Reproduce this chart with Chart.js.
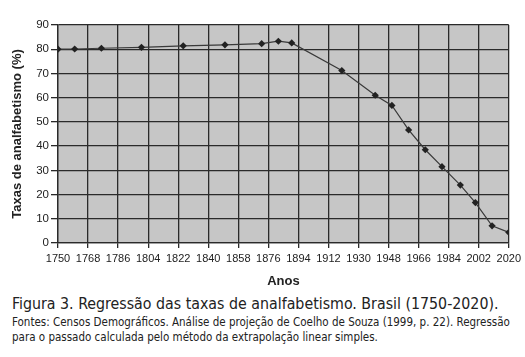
<!DOCTYPE html>
<html><head><meta charset="utf-8">
<script src="https://cdn.jsdelivr.net/npm/chart.js@4"></script>
<style>
html,body{margin:0;padding:0;background:#fff;width:525px;height:357px;overflow:hidden;}
#wrap{position:absolute;left:0;top:0;width:525px;height:292px;}
.cap{position:absolute;white-space:nowrap;color:#222;font-family:"DejaVu Sans Condensed","DejaVu Sans",sans-serif;}
#c1{left:12px;top:294px;font-size:15.8px;}
#c2{left:12px;top:315px;font-size:11.5px;}
#c3{left:12px;top:330px;font-size:11.5px;}
</style></head>
<body>
<div id="wrap"><canvas id="ch" width="525" height="292"></canvas></div>
<div class="cap" id="c1">Figura 3. Regressão das taxas de analfabetismo. Brasil (1750-2020).</div>
<div class="cap" id="c2">Fontes: Censos Demográficos. Análise de projeção de Coelho de Souza (1999, p. 22). Regressão</div>
<div class="cap" id="c3">para o passado calculada pelo método da extrapolação linear simples.</div>
<script>
const years = [1750, 1760, 1776, 1800, 1825, 1850, 1872, 1882, 1890, 1920, 1940, 1950, 1960, 1970, 1980, 1991, 2000, 2010, 2020];
const rates = [80.0, 80.1, 80.4, 80.8, 81.4, 81.8, 82.3, 83.3, 82.6, 71.2, 61.0, 56.8, 46.7, 38.5, 31.5, 23.9, 16.7, 7.1, 4.4];
const xTicks = [1750,1768,1786,1804,1822,1840,1858,1876,1894,1912,1930,1948,1966,1984,2002,2020];
const yTicks = [0,10,20,30,40,50,60,70,80,90];
const yTitle = 'Taxas de analfabetismo (%)';
const xTitle = 'Anos';

const FAM = '"Liberation Sans", Arial, sans-serif';
const pts = years.map((y,i)=>({x:y, y:rates[i]}));
const bgPlugin = {
  id:'plotbg',
  beforeDraw(chart){
    const a = chart.chartArea, ctx = chart.ctx;
    ctx.save(); ctx.fillStyle = '#c6c6c6';
    ctx.fillRect(a.left, a.top, a.right-a.left, a.bottom-a.top);
    ctx.restore();
  }
};
function draw(){
new Chart(document.getElementById('ch'), {
  type:'scatter',
  data:{datasets:[{data:pts, showLine:true, borderColor:'#3a3a3a', borderWidth:1.2,
    pointStyle:'rectRot', pointRadius:3.6, pointBackgroundColor:'#222', pointBorderColor:'#222', pointBorderWidth:0}]},
  options:{
    responsive:false, animation:false,
    layout:{padding:{left:0,right:13,top:25,bottom:0}},
    plugins:{legend:{display:false}, tooltip:{enabled:false}},
    scales:{
      x:{type:'linear', min:1750, max:2020,
        afterBuildTicks(s){ s.ticks = xTicks.map(v=>({value:v})); },
        afterFit(s){ s.height = 49; },
        ticks:{autoSkip:false, maxRotation:0, color:'#222', font:{family:FAM, size:11}, padding:4,
          callback:(v)=>String(v)},
        grid:{color:'#2a2a2a', lineWidth:1.3, tickLength:5, tickColor:'#2a2a2a'},
        border:{color:'#2a2a2a', width:1.3},
        title:{display:true, text:xTitle, color:'#222', font:{family:FAM, size:13, weight:'bold'}, padding:{top:4,bottom:3}}
      },
      y:{min:0, max:90,
        afterBuildTicks(s){ s.ticks = yTicks.map(v=>({value:v})); },
        afterFit(s){ s.width = 58; },
        ticks:{color:'#222', font:{family:FAM, size:11.5}, padding:2, callback:(v)=>String(v)},
        grid:{color:'#2a2a2a', lineWidth:1.3, tickLength:7, tickColor:'#2a2a2a'},
        border:{color:'#2a2a2a', width:1.3},
        title:{display:true, text:yTitle, color:'#222', font:{family:FAM, size:13, weight:'bold'}, padding:{top:10,bottom:0}}
      }
    }
  },
  plugins:[bgPlugin]
});
}
Promise.all([
  document.fonts.load('bold 14px "Liberation Sans"'),
  document.fonts.load('11px "Liberation Sans"'),
  document.fonts.load('16px "DejaVu Sans Condensed"')
]).then(draw, draw);
</script>
</body></html>
